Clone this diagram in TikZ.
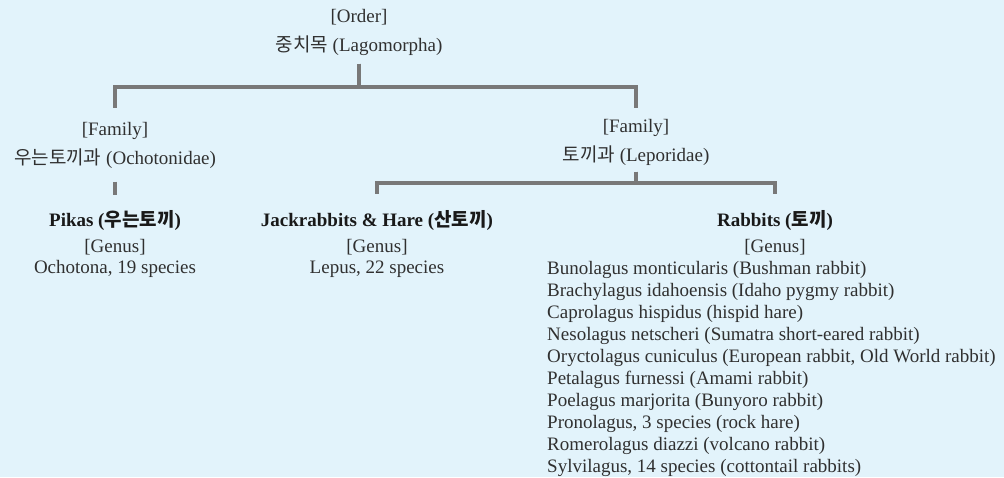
\documentclass[tikz,border=0pt]{standalone}
\usepackage{fontspec}
\setmainfont{Liberation Serif}
\newfontfamily\kr{Noto Sans CJK KR}
\definecolor{bgblue}{HTML}{E2F3FB}
\definecolor{linegray}{HTML}{787878}
\definecolor{txtgray}{HTML}{303030}
\tikzset{branch/.style={draw=linegray, line width=3.2pt},
  taxon/.style={anchor=north, inner sep=0pt, align=center, text=txtgray, font=\fontsize{19}{29}\selectfont},
  genus/.style={taxon, font=\fontsize{19}{21}\selectfont}}
\newcommand{\kor}[1]{{\kr #1}}
\newcommand{\taxname}[1]{{\bfseries\color{black!90}#1}}

\begin{document}
\begin{tikzpicture}[x=1pt, y=-1pt]
      \useasboundingbox[fill=bgblue] (0, 0) rectangle (1004, 477);

      \node[taxon] (ord) at (359, 9) {[Order]\\\kor{중치목} (Lagomorpha)};
      \node[taxon] (och) at (115, 122) {[Family]\\\kor{우는토끼과} (Ochotonidae)};
      \node[taxon] (lep) at (636, 119) {[Family]\\\kor{토끼과} (Leporidae)};

      \node[genus] (pik) at (115, 210) {\taxname{Pikas (\kor{우는토끼})}\\[5pt]{[Genus]}\\Ochotona, 19 species};
      \node[genus] (jack) at (377, 210) {\taxname{Jackrabbits \& Hare (\kor{산토끼})}\\[5pt]{[Genus]}\\Lepus, 22 species};
      \node[genus] (rab) at (775, 210) {\taxname{Rabbits (\kor{토끼})}\\[5pt]{[Genus]}};
      \node[genus, anchor=north west, align=left, font=\fontsize{19}{22}\selectfont] (rablist) at (547, 261) {%
        Bunolagus monticularis (Bushman rabbit)\\
        Brachylagus idahoensis (Idaho pygmy rabbit)\\
        Caprolagus hispidus (hispid hare)\\
        Nesolagus netscheri (Sumatra short-eared rabbit)\\
        Oryctolagus cuniculus (European rabbit, Old World rabbit)\\
        Petalagus furnessi (Amami rabbit)\\
        Poelagus marjorita (Bunyoro rabbit)\\
        Pronolagus, 3 species (rock hare)\\
        Romerolagus diazzi (volcano rabbit)\\
        Sylvilagus, 14 species (cottontail rabbits)};

      \coordinate (obar) at (359, 87);
      \coordinate (lbar) at (636, 183);

      \draw[branch, shorten <=8pt, shorten >=14pt] (ord.south) -- (ord.south |- obar) -| (och.north);
      \draw[branch, shorten <=8pt, shorten >=11pt] (ord.south) -- (ord.south |- obar) -| (lep.north);
      \draw[branch, shorten <=13pt, shorten >=15pt] (och.south) -- (pik.north);
      \draw[branch, shorten <=6pt, shorten >=16pt] (lep.south) -- (lep.south |- lbar) -| (jack.north);
      \draw[branch, shorten <=6pt, shorten >=16pt] (lep.south) -- (lep.south |- lbar) -| (rab.north);
    \end{tikzpicture}
\end{document}
